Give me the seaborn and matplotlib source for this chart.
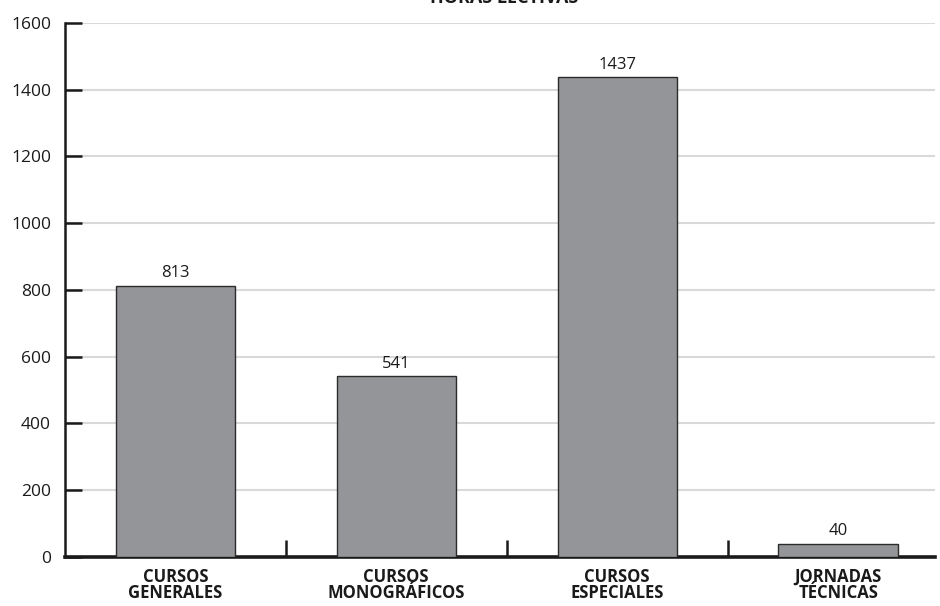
import numpy as np
import matplotlib
matplotlib.use('Agg')
import matplotlib.pyplot as plt
import seaborn as sns
import pandas as pd

categorias = ['CURSOS\nGENERALES', 'CURSOS\nMONOGRÁFICOS', 'CURSOS\nESPECIALES', 'JORNADAS\nTÉCNICAS']
horas = [813, 541, 1437, 40]
titulo = 'HORAS LECTIVAS'

sns.set_style('white')
plt.rcParams['font.family'] = ['Open Sans', 'DejaVu Sans']

df = pd.DataFrame({'cat': categorias, 'horas': horas})

fig = plt.figure(figsize=(9.4, 6.06), dpi=100)
ax = fig.add_axes([0.069, 0.081, 0.926, 0.881])

sns.barplot(data=df, x='cat', y='horas', color='#939598', saturation=1,
            width=0.54, edgecolor='#2b2b2b', linewidth=1.0, ax=ax, zorder=3)

for i, v in enumerate(horas):
    ax.text(i, v + 14, str(v), ha='center', va='bottom', fontsize=12, color='#1a1a1a')

ax.set_ylim(0, 1600)
ax.set_xlim(-0.5, 3.44)
ax.set_yticks(np.arange(0, 1601, 200))
ax.yaxis.grid(True, color='#d9d9d9', linewidth=1.5, zorder=0)
ax.set_axisbelow(True)

ax.tick_params(axis='y', left=True, direction='in', length=12, width=1.8, color='#1a1a1a',
               labelsize=12.5, pad=10, labelcolor='#1a1a1a')
ax.set_xticks(range(len(categorias)))
ax.set_xticklabels(categorias, fontsize=12, fontweight='bold', linespacing=0.85,
                   color='#1a1a1a')
ax.tick_params(axis='x', which='major', bottom=False, length=0, pad=8)
ax.set_xticks([0.5, 1.5, 2.5], minor=True)
ax.tick_params(axis='x', which='minor', bottom=True, direction='in', length=12, width=1.8,
               color='#1a1a1a')

ax.set_xlabel('')
ax.set_ylabel('')
for s in ['top', 'right']:
    ax.spines[s].set_visible(False)
ax.spines['left'].set_linewidth(1.8)
ax.spines['left'].set_color('#1a1a1a')
ax.spines['bottom'].set_linewidth(2.6)
ax.spines['bottom'].set_color('#1a1a1a')

fig.text(0.536, 1.003, titulo, ha='center', va='center', fontsize=13, fontweight='bold',
         color='#1a1a1a')

fig.savefig('out.png', dpi=100)
